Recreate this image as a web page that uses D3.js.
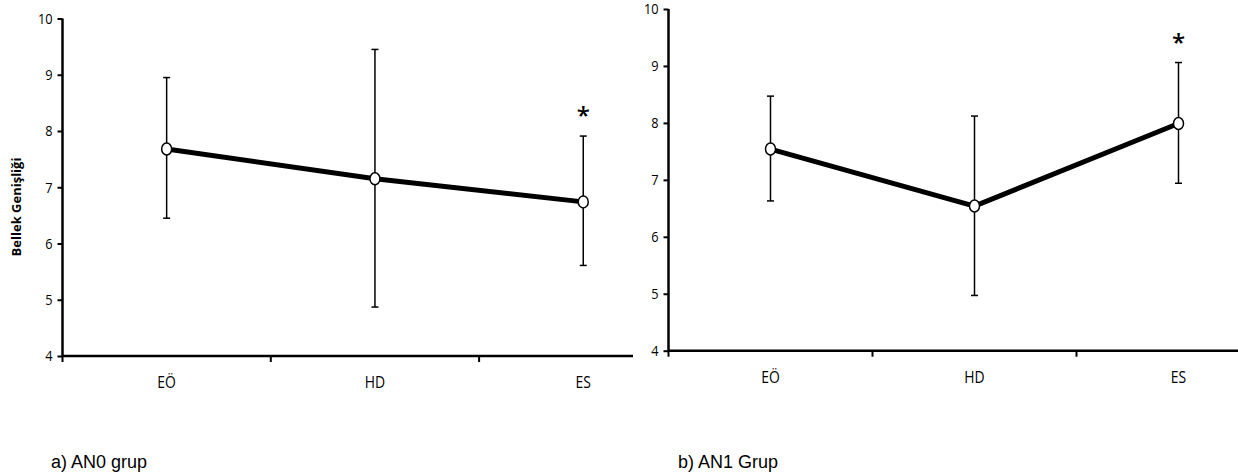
<!DOCTYPE html>
<html><head><meta charset="utf-8">
<script src="https://cdn.jsdelivr.net/npm/d3@7"></script>
<style>body{margin:0;background:#fff;} svg{display:block;}</style>
</head><body>
<svg id="c" width="1238" height="473"></svg>
<script>
const categories = ["EÖ", "HD", "ES"];
const yTicks = [4, 5, 6, 7, 8, 9, 10];
const an0Mean = [7.68, 7.15, 6.74];
const an0Upper = [8.95, 9.45, 7.91];
const an0Lower = [6.45, 4.87, 5.61];
const an1Mean = [7.54, 6.54, 7.99];
const an1Upper = [8.47, 8.12, 9.06];
const an1Lower = [6.63, 4.97, 6.94];
const starred = ["ES"];
const yTitle = "Bellek Genişliği";
const captions = ["a) AN0 grup", "b) AN1 Grup"];

const svg = d3.select("#c");
const tickFont = "'Open Sans', 'Noto Sans', sans-serif";

function panel(cfg){
  const g = svg.append("g");
  const x = d3.scaleBand().domain(categories).range([cfg.x0, cfg.x0 + cfg.bw*3]).padding(0);
  const y = d3.scaleLinear().domain([4,10]).range([cfg.yb, cfg.yt]);
  const clipId = "clip"+cfg.id;
  svg.append("clipPath").attr("id", clipId).append("rect")
    .attr("x", 0).attr("y", 0).attr("width", cfg.clipR).attr("height", 473);
  // y axis
  const ya = g.append("g").attr("transform", `translate(${cfg.x0},0)`)
    .call(d3.axisLeft(y).tickValues(yTicks).tickSize(5).tickSizeOuter(0).tickFormat(d3.format("d")));
  ya.select(".domain").attr("stroke-width", 2.5).attr("d", `M0,${cfg.yb}V${cfg.yt}`);
  ya.selectAll(".tick line").attr("stroke-width", 2);
  ya.selectAll(".tick text").attr("font-family", tickFont).attr("font-size", 15)
    .attr("font-weight", 400).attr("fill", "#000")
    .attr("transform", "scale(0.85,1)").attr("x", -10/0.85);
  // x axis
  const xg = g.append("g").attr("clip-path", `url(#${clipId})`);
  xg.append("line").attr("x1", cfg.x0).attr("x2", cfg.x0 + cfg.bw*3)
    .attr("y1", cfg.yb).attr("y2", cfg.yb).attr("stroke", "#000").attr("stroke-width", 2.5);
  xg.selectAll("line.bt").data(categories).join("line").attr("class","bt")
    .attr("x1", d => x(d)).attr("x2", d => x(d))
    .attr("y1", cfg.yb).attr("y2", cfg.yb + 6).attr("stroke", "#000").attr("stroke-width", 2);
  const xa = g.append("g").attr("transform", `translate(0,${cfg.yb})`)
    .call(d3.axisBottom(x).tickSize(0).tickPadding(20));
  xa.select(".domain").remove();
  xa.selectAll(".tick text").attr("font-family", tickFont).attr("font-size", 17)
    .attr("font-weight", 400).attr("fill", "#000").attr("transform", "scale(0.82,1)");
  const cx = d => x(d) + x.bandwidth()/2;
  const data = categories.map((c,i)=>({c, m:cfg.mean[i], u:cfg.up[i], l:cfg.lo[i]}));
  // error bars
  const eb = g.append("g").attr("stroke", "#000").attr("stroke-width", 1.5);
  eb.selectAll("line.v").data(data).join("line").attr("class","v")
    .attr("x1", d=>cx(d.c)).attr("x2", d=>cx(d.c)).attr("y1", d=>y(d.u)).attr("y2", d=>y(d.l));
  eb.selectAll("line.t").data(data).join("line").attr("class","t")
    .attr("x1", d=>cx(d.c)-3.5).attr("x2", d=>cx(d.c)+3.5).attr("y1", d=>y(d.u)).attr("y2", d=>y(d.u));
  eb.selectAll("line.b").data(data).join("line").attr("class","b")
    .attr("x1", d=>cx(d.c)-3.5).attr("x2", d=>cx(d.c)+3.5).attr("y1", d=>y(d.l)).attr("y2", d=>y(d.l));
  // line
  g.append("path").datum(data).attr("fill","none").attr("stroke","#000").attr("stroke-width",5)
    .attr("d", d3.line().x(d=>cx(d.c)).y(d=>y(d.m)));
  // markers
  g.selectAll("ellipse.m").data(data).join("ellipse").attr("class","m")
    .attr("cx", d=>cx(d.c)).attr("cy", d=>y(d.m)).attr("rx", 5).attr("ry", 6)
    .attr("fill","#fff").attr("stroke","#000").attr("stroke-width",1.5);
  // asterisks
  g.selectAll("text.star").data(data.filter(d=>starred.includes(d.c))).join("text").attr("class","star")
    .attr("x", d=>cx(d.c)).attr("y", d=>y(d.u) - 12).attr("text-anchor","middle")
    .attr("font-family", tickFont).attr("font-size", 24).attr("font-weight", 600).attr("fill","#000").text("*");
  // caption
  g.append("text").attr("x", cfg.capX).attr("y", 468)
    .attr("font-family", "'Liberation Sans', Arial, sans-serif").attr("font-size", 18)
    .attr("fill","#000").text(cfg.caption);
}

panel({id:"a", x0:62.5, bw:208.3, yb:356, yt:18.5, clipR:633, mean:an0Mean, up:an0Upper, lo:an0Lower,
  caption:captions[0], capX:51});
panel({id:"b", x0:668.5, bw:204, yb:350.7, yt:9, clipR:1238, mean:an1Mean, up:an1Upper, lo:an1Lower,
  caption:captions[1], capX:678});

svg.append("text").attr("transform", "translate(21,207) rotate(-90)").attr("text-anchor","middle")
  .attr("font-family", tickFont).attr("font-size", 13).attr("font-weight", 700).attr("fill","#000")
  .text(yTitle);
</script>
</body></html>
